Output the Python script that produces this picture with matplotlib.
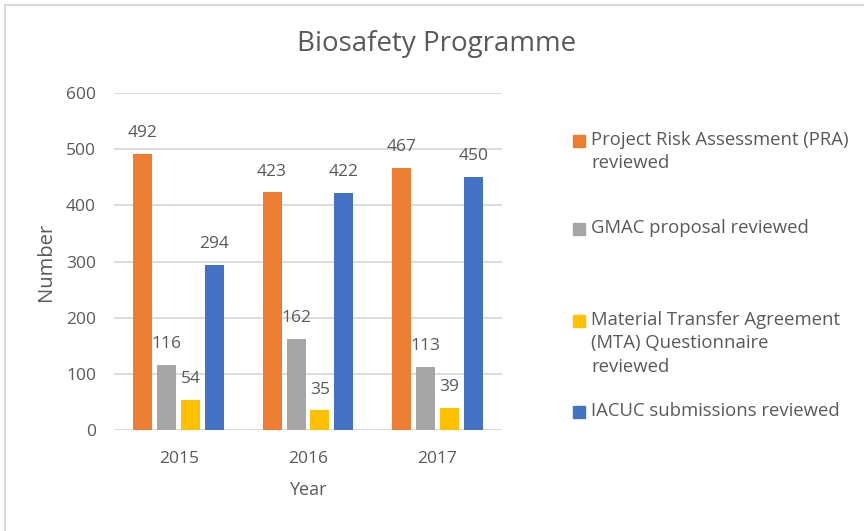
import matplotlib.pyplot as plt
from matplotlib.patches import Rectangle
from matplotlib.lines import Line2D
import numpy as np

years = ["2015", "2016", "2017"]
series_names = ["Project Risk Assessment (PRA)\nreviewed",
                "GMAC proposal reviewed",
                "Material Transfer Agreement\n(MTA) Questionnaire\nreviewed",
                "IACUC submissions reviewed"]
pra = [492, 423, 467]
gmac = [116, 162, 113]
mta = [54, 35, 39]
iacuc = [294, 422, 450]
colors = ["#ED7D31", "#A5A5A5", "#FFC000", "#4472C4"]

txt = "#595959"
plt.rcParams['font.family'] = ['Open Sans', 'DejaVu Sans']

fig = plt.figure(figsize=(8.64, 5.31), dpi=100)
ax = fig.add_axes([114/864, 1 - 430/531, 388/864, 337/531])

x = np.arange(len(years))
w = 0.147
step = 0.185
for i, vals in enumerate([pra, gmac, mta, iacuc]):
    pos = x + (i - 1.5) * step
    ax.bar(pos, vals, w, color=colors[i], zorder=3)
    for p, v in zip(pos, vals):
        ax.annotate(str(v), (p, v), xytext=(0, 15), textcoords="offset points",
                    ha="center", va="center", fontsize=12.5, color=txt)

ax.set_xlim(-0.5, 2.5)
ax.set_ylim(0, 600)
ax.set_yticks(range(0, 601, 100))
ax.set_xticks(x)
ax.set_xticklabels(years)
ax.grid(axis="y", color="#D9D9D9", linewidth=1.3, zorder=0)
for s in ax.spines.values():
    s.set_visible(False)
ax.tick_params(length=0, colors=txt, labelsize=12.5)
ax.tick_params(axis="y", pad=13)
ax.tick_params(axis="x", pad=15)
ax.set_xlabel("Year", fontsize=13, color=txt, labelpad=10)
ax.set_ylabel("Number", fontsize=14.5, color=txt, labelpad=7)

fig.text(437/864, 1 - 44/531, "Biosafety Programme", ha="center", va="center",
         fontsize=20, color=txt)

# legend drawn by hand to keep Excel's uneven spacing
leg_y = [141, 229, 321, 412]
for c, name, yy in zip(colors, series_names, leg_y):
    fig.patches.append(Rectangle((573/864, 1 - (yy + 6)/531), 12/864, 12/531,
                                 color=c, transform=fig.transFigure))
    fig.text(591/864, 1 - (yy - 10)/531, name, ha="left", va="top",
             fontsize=13.3, color=txt, linespacing=1.38)

# chart border (left and top only visible)
fig.add_artist(Line2D([4.5/864, 4.5/864], [0, 1 - 4.5/531], color="#D9D9D9", lw=1.5))
fig.add_artist(Line2D([4.5/864, 1], [1 - 4.5/531, 1 - 4.5/531], color="#D9D9D9", lw=1.5))

fig.savefig("out.png", dpi=100)
